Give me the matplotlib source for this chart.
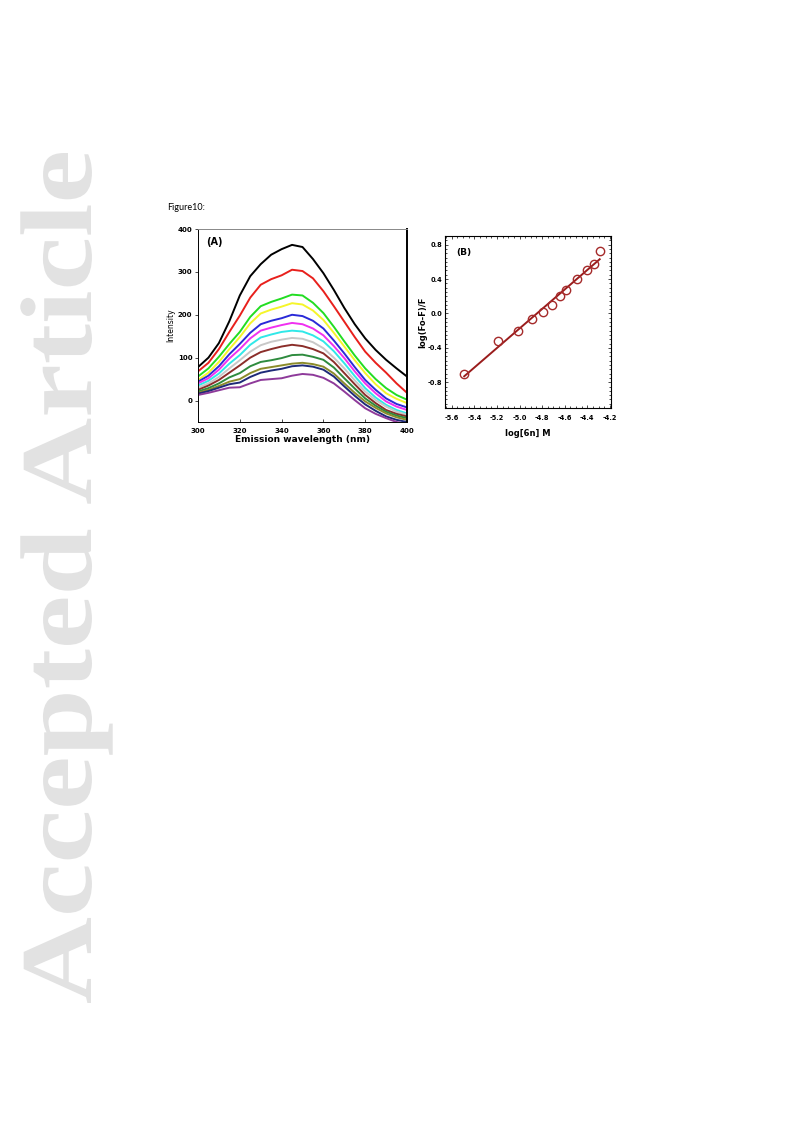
import matplotlib
matplotlib.use("Agg")
import matplotlib.pyplot as plt
import numpy as np
from matplotlib.ticker import MultipleLocator
from matplotlib.textpath import TextPath
from matplotlib.font_manager import FontProperties
from matplotlib.patches import PathPatch
from matplotlib.transforms import Affine2D

# ---- panel A: emission spectra ----
wavelength = [300, 305, 310, 315, 320, 325, 330, 335, 340, 345, 350,
              355, 360, 365, 370, 375, 380, 385, 390, 395, 400]

spectra = [
    [78, 100, 134, 185, 245, 290, 318, 340, 353, 363, 358, 330, 297, 258, 216, 178, 145, 118, 95, 75, 56],
    [68, 88, 120, 160, 198, 240, 270, 283, 292, 305, 302, 285, 255, 220, 184, 148, 114, 88, 65, 40, 18],
    [56, 75, 102, 132, 160, 195, 220, 230, 238, 247, 245, 228, 204, 172, 138, 105, 75, 50, 29, 13, 2],
    [48, 65, 90, 120, 148, 180, 203, 212, 219, 227, 224, 210, 188, 158, 126, 94, 64, 38, 17, 4, -6],
    [44, 58, 80, 108, 132, 158, 178, 186, 192, 200, 197, 186, 168, 140, 110, 78, 48, 25, 5, -8, -16],
    [40, 52, 72, 98, 120, 145, 163, 170, 176, 181, 178, 168, 152, 127, 99, 68, 40, 17, -2, -14, -22],
    [35, 46, 63, 86, 106, 130, 147, 154, 160, 163, 161, 152, 138, 115, 87, 57, 29, 7, -10, -22, -30],
    [30, 40, 55, 75, 94, 114, 129, 137, 142, 146, 144, 136, 122, 100, 75, 47, 21, 1, -14, -26, -33],
    [25, 35, 48, 65, 82, 100, 113, 120, 126, 130, 127, 120, 110, 90, 64, 38, 13, -6, -22, -31, -37],
    [21, 29, 40, 54, 64, 80, 90, 94, 99, 106, 107, 102, 95, 77, 52, 28, 5, -12, -26, -35, -41],
    [18, 25, 34, 44, 50, 64, 74, 78, 82, 86, 88, 85, 79, 63, 40, 18, -2, -17, -30, -39, -45],
    [16, 22, 30, 38, 42, 55, 65, 70, 74, 80, 82, 79, 72, 56, 33, 11, -9, -24, -37, -45, -50],
    [13, 18, 24, 30, 31, 40, 48, 50, 52, 58, 62, 60, 53, 40, 21, 1, -18, -31, -41, -50, -55],
]
spec_colors = ['black', '#e8201c', '#22dd22', '#f5f52a', '#2a2ad8', '#f030f0', '#30e8e8',
               '#c8c8c8', '#8b2e2a', '#2e8b3e', '#8b8b2a', '#1e2a78', '#8e3a9a']

# ---- panel B: double log plot ----
log_conc = [-5.49, -5.19, -5.01, -4.89, -4.79, -4.71, -4.64, -4.59, -4.49, -4.40, -4.34, -4.29]
log_ratio = [-0.71, -0.32, -0.21, -0.07, 0.02, 0.10, 0.20, 0.27, 0.40, 0.51, 0.57, 0.73]

W, H = 793, 1121
fig = plt.figure(figsize=(W / 100, H / 100), dpi=100)

# watermark, stretched along its length like the original page stamp
wm = TextPath((0, 0), 'Accepted Article', size=100,
              prop=FontProperties(family='Liberation Serif', weight='bold'))
bb = wm.get_extents()
sx = 850 / bb.width      # px per unit along the text
sy = 0.9 * 75 / 66.2     # px per unit across
tr = (Affine2D().translate(-bb.x0, 0).scale(sx, sy).rotate_deg(90)
      .translate(91, H - 1003).scale(1 / W, 1 / H))
fig.add_artist(PathPatch(tr.transform_path(wm), facecolor='#e2e2e2', edgecolor='none',
                         transform=fig.transFigure))

fig.text(167 / W, 1 - 208 / H, 'Figure10:', fontsize=6.5, family='Lato',
         ha='left', va='center')

axA = fig.add_axes([198 / W, 1 - 422 / H, 209 / W, 193 / H])
for vals, c in zip(spectra, spec_colors):
    axA.plot(wavelength, vals, color=c, linewidth=1.4)
axA.set_xlim(300, 400)
axA.set_ylim(-50, 400)
axA.set_xticks([300, 320, 340, 360, 380, 400])
axA.set_yticks([0, 100, 200, 300, 400])
axA.tick_params(labelsize=5, length=2, width=0.5, pad=2)
axA.tick_params(axis='x', direction='in', pad=4)
for lab in axA.get_xticklabels() + axA.get_yticklabels():
    lab.set_fontweight('bold')
axA.set_xlabel('Emission wavelength (nm)', fontsize=6.5, fontweight='bold', labelpad=1)
axA.set_ylabel('Intensity', fontsize=5.5, labelpad=2)
axA.text(0.04, 0.96, '(A)', transform=axA.transAxes, fontsize=7, fontweight='bold',
         ha='left', va='top')
for s in axA.spines.values():
    s.set_linewidth(0.7)
axA.spines['top'].set_color('#888888')
axA.spines['right'].set_linewidth(1.4)

axB = fig.add_axes([445 / W, 1 - 408 / H, 166 / W, 172 / H])
slope, icpt = np.polyfit(log_conc, log_ratio, 1)
xfit = np.array([min(log_conc), max(log_conc)])
axB.plot(xfit, slope * xfit + icpt, color='#9a1c1c', linewidth=1.4)
axB.plot(log_conc, log_ratio, 'o', markersize=6, markerfacecolor='none',
         markeredgecolor='#a52a2a', markeredgewidth=1.0)
axB.set_xlim(-5.66, -4.19)
axB.set_ylim(-1.1, 0.9)
axB.xaxis.set_minor_locator(MultipleLocator(0.05))
axB.yaxis.set_minor_locator(MultipleLocator(0.05))
axB.set_xticks([-5.6, -5.4, -5.2, -5.0, -4.8, -4.6, -4.4, -4.2])
axB.set_xticklabels(['-5.6', '-5.4', '-5.2', '-5.0', '-4.8', '-4.6', '-4.4', '-4.2'])
axB.set_yticks([-0.8, -0.4, 0.0, 0.4, 0.8])
axB.set_yticklabels(['-0.8', '-0.4', '0.0', '0.4', '0.8'])
axB.tick_params(which='both', direction='in', top=True, right=True, width=0.5)
axB.tick_params(which='major', length=2.5, labelsize=4.8, pad=2)
axB.tick_params(axis='x', which='major', pad=5)
axB.tick_params(which='minor', length=1.3)
for lab in axB.get_xticklabels() + axB.get_yticklabels():
    lab.set_fontweight('bold')
axB.set_xlabel('log[6n] M', fontsize=6, fontweight='bold', labelpad=6)
axB.set_ylabel('log(Fo-F)/F', fontsize=6, fontweight='bold', labelpad=0)
axB.text(0.07, 0.93, '(B)', transform=axB.transAxes, fontsize=6.5, fontweight='bold',
         ha='left', va='top')
for s in axB.spines.values():
    s.set_linewidth(0.8)

fig.savefig('out.png', dpi=100)
